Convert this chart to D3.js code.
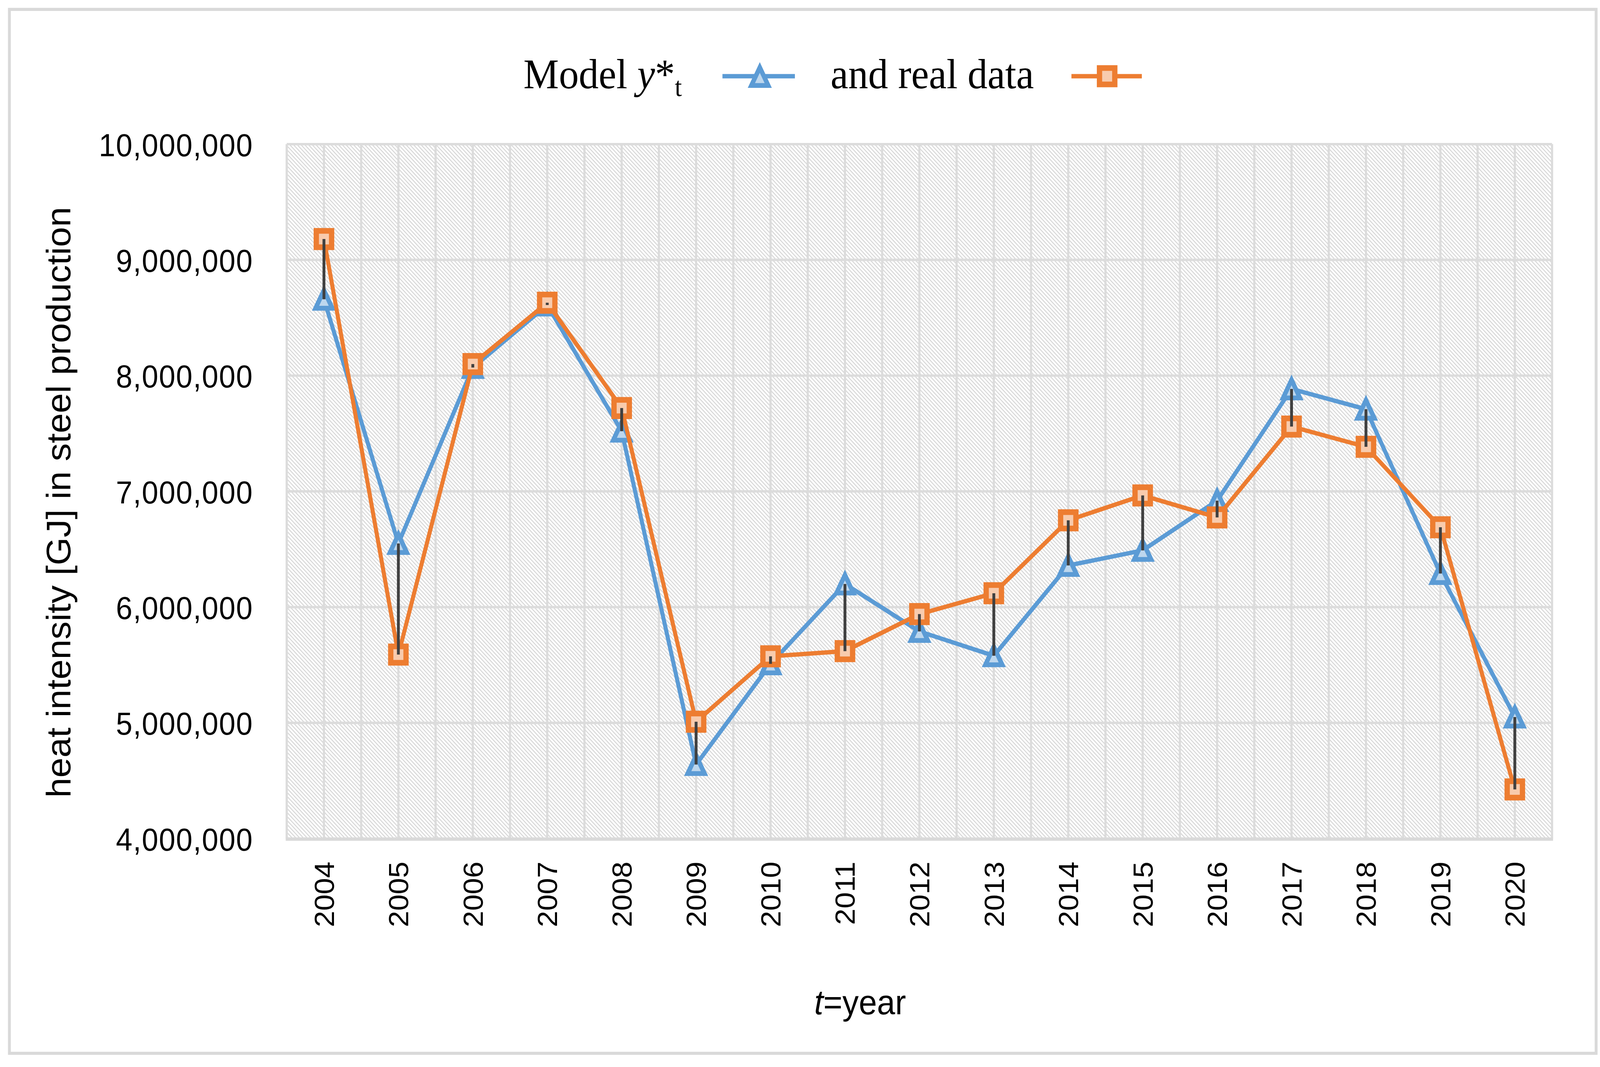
<!DOCTYPE html>
<html>
<head>
<meta charset="utf-8">
<script src="https://cdn.jsdelivr.net/npm/d3@7"></script>
<style>
  html, body { margin: 0; padding: 0; background: #fff; overflow: hidden; width: 100%; height: 100%; }
  svg { display: block; width: 100vw; height: 100vh; }
</style>
</head>
<body>
<script>
// ---- data ----
const years = ["2004","2005","2006","2007","2008","2009","2010","2011","2012","2013","2014","2015","2016","2017","2018","2019","2020"];
const modelValues = [8660000, 6550000, 8070000, 8610000, 7520000, 4640000, 5510000, 6200000, 5790000, 5580000, 6360000, 6490000, 6920000, 7885000, 7710000, 6290000, 5050000];
const realValues  = [9180000, 5590000, 8100000, 8630000, 7720000, 5010000, 5575000, 5620000, 5940000, 6120000, 6750000, 6965000, 6775000, 7560000, 7385000, 6690000, 4425000];
const yTicks = [4000000, 5000000, 6000000, 7000000, 8000000, 9000000, 10000000];
const legendModel = "Model ";
const legendReal = "and real data";
const yTitle = "heat intensity [GJ] in steel production";

// ---- layout (view units; stretched to fill the window) ----
const VW = 1568, VH = 2732 * 1568 / 4384;
const plot = { left: 281, right: 1521, top: 132, bottom: 768 };
const blue = "#5b9bd5", blueFill = "#bdd7ee";
const orange = "#ed7d31", orangeFill = "#f8cbad";
const grid = "#d9d9d9";

const svg = d3.select("body").append("svg")
  .attr("viewBox", `0 0 ${VW} ${VH}`)
  .attr("preserveAspectRatio", "none");

svg.append("rect").attr("width", VW).attr("height", VH).attr("fill", "#fff");

const defs = svg.append("defs");
const pat = defs.append("pattern")
  .attr("id", "hatch").attr("patternUnits", "userSpaceOnUse")
  .attr("width", 2.6).attr("height", 10)
  .attr("patternTransform", "rotate(-45)");
pat.append("rect").attr("width", 2.6).attr("height", 10).attr("fill", "#ffffff");
pat.append("rect").attr("width", 0.85).attr("height", 10).attr("fill", "#d4d4d4");

// outer border
svg.append("rect")
  .attr("x", 9.2).attr("y", 8.6).attr("width", 1555).attr("height", 956)
  .attr("fill", "none").attr("stroke", grid).attr("stroke-width", 2.8);

// scales
const x = d3.scaleBand().domain(years).range([plot.left, plot.right]).padding(0);
const bw = x.bandwidth();
const cx = d => x(d) + bw / 2;
const y = d3.scaleLinear().domain([4000000, 10000000]).range([plot.bottom, plot.top]);

// plot area hatch
svg.append("rect")
  .attr("x", plot.left).attr("y", plot.top)
  .attr("width", plot.right - plot.left).attr("height", plot.bottom - plot.top)
  .attr("fill", "url(#hatch)");

// gridlines
const gridG = svg.append("g").attr("stroke", "#dcdcdc").attr("stroke-width", 2.2);
gridG.selectAll("line.h").data(yTicks).join("line")
  .attr("x1", plot.left).attr("x2", plot.right)
  .attr("y1", d => y(d)).attr("y2", d => y(d));
const vPos = [];
years.forEach(yr => { vPos.push(x(yr)); vPos.push(cx(yr)); });
vPos.push(plot.right);
gridG.selectAll("line.v").data(vPos).join("line")
  .attr("x1", d => d).attr("x2", d => d)
  .attr("y1", plot.top).attr("y2", plot.bottom);

// bottom axis line
svg.append("line")
  .attr("x1", plot.left - 1).attr("x2", plot.right + 1)
  .attr("y1", plot.bottom + 0.5).attr("y2", plot.bottom + 0.5)
  .attr("stroke", grid).attr("stroke-width", 3);

// y axis labels
const yAxis = svg.append("g")
  .attr("transform", "translate(248,0)")
  .call(d3.axisLeft(y).tickValues(yTicks).tickSize(0).tickPadding(0).tickFormat(d3.format(",")));
yAxis.select(".domain").remove();
yAxis.selectAll("text")
  .attr("font-family", "'Liberation Sans', Arial, sans-serif")
  .attr("font-size", 29).attr("fill", "#000")
  .attr("letter-spacing", 0.6)
  .attr("dy", "0.36em");

// x axis labels
const xAxis = svg.append("g")
  .attr("transform", `translate(0,${plot.bottom})`)
  .call(d3.axisBottom(x).tickSize(0).tickPadding(0));
xAxis.select(".domain").remove();
xAxis.selectAll("text")
  .attr("font-family", "'Liberation Sans', Arial, sans-serif")
  .attr("font-size", 27).attr("fill", "#000")
  .attr("transform", "rotate(-90)")
  .attr("text-anchor", "end")
  .attr("x", -21).attr("y", 9.7).attr("dy", 0);

// series
const line = d3.line().x((d, i) => cx(years[i])).y(d => y(d));
const sqSize = 15;
const triPath = s => `M0,${-s/2} L${s/2},${s/2} L${-s/2},${s/2} Z`;

svg.append("path").datum(modelValues)
  .attr("d", line).attr("fill", "none")
  .attr("stroke", blue).attr("stroke-width", 4).attr("stroke-linejoin", "round");
svg.append("g").selectAll("path").data(modelValues).join("path")
  .attr("transform", (d, i) => `translate(${cx(years[i])},${y(d)})`)
  .attr("d", triPath(16.5))
  .attr("fill", blueFill).attr("stroke", blue).attr("stroke-width", 4.4);

svg.append("path").datum(realValues)
  .attr("d", line).attr("fill", "none")
  .attr("stroke", orange).attr("stroke-width", 4).attr("stroke-linejoin", "round");
svg.append("g").selectAll("rect").data(realValues).join("rect")
  .attr("x", (d, i) => cx(years[i]) - sqSize / 2)
  .attr("y", d => y(d) - sqSize / 2)
  .attr("width", sqSize).attr("height", sqSize)
  .attr("fill", orangeFill).attr("stroke", orange).attr("stroke-width", 5.2);

// high-low lines
svg.append("g").selectAll("line").data(years).join("line")
  .attr("x1", d => cx(d)).attr("x2", d => cx(d))
  .attr("y1", (d, i) => y(realValues[i])).attr("y2", (d, i) => y(modelValues[i]))
  .attr("stroke", "#404040").attr("stroke-width", 2.8);

// legend
const lg = svg.append("g");
const t1 = lg.append("text")
  .attr("x", 513).attr("y", 81)
  .attr("font-family", "'Liberation Serif', 'Times New Roman', serif")
  .attr("font-size", 39).attr("fill", "#000");
t1.append("tspan").text(legendModel);
t1.append("tspan").attr("font-style", "italic").text("y");
t1.append("tspan").text("*");
t1.append("tspan").attr("font-size", 25).attr("dy", 7).text("t");

lg.append("line").attr("x1", 708).attr("x2", 779).attr("y1", 69.8).attr("y2", 69.8)
  .attr("stroke", blue).attr("stroke-width", 4);
lg.append("path").attr("transform", "translate(744.6,70)").attr("d", triPath(16.5))
  .attr("fill", blueFill).attr("stroke", blue).attr("stroke-width", 4.4);

lg.append("text")
  .attr("x", 814).attr("y", 81)
  .attr("font-family", "'Liberation Serif', 'Times New Roman', serif")
  .attr("font-size", 39).attr("fill", "#000")
  .text(legendReal);

lg.append("line").attr("x1", 1050).attr("x2", 1119).attr("y1", 69.8).attr("y2", 69.8)
  .attr("stroke", orange).attr("stroke-width", 4);
lg.append("rect").attr("x", 1085 - sqSize / 2).attr("y", 69.8 - sqSize / 2)
  .attr("width", sqSize).attr("height", sqSize)
  .attr("fill", orangeFill).attr("stroke", orange).attr("stroke-width", 5.2);

// axis titles
svg.append("text")
  .attr("transform", "translate(69,460) rotate(-90)")
  .attr("text-anchor", "middle")
  .attr("font-family", "'Liberation Sans', Arial, sans-serif")
  .attr("font-size", 33).attr("fill", "#000")
  .text(yTitle);

const xt = svg.append("text")
  .attr("x", 798).attr("y", 929)
  .attr("font-family", "'Liberation Sans', Arial, sans-serif")
  .attr("font-size", 32).attr("fill", "#000");
xt.append("tspan").attr("font-style", "italic").text("t");
xt.append("tspan").text("=year");
</script>
</body>
</html>
